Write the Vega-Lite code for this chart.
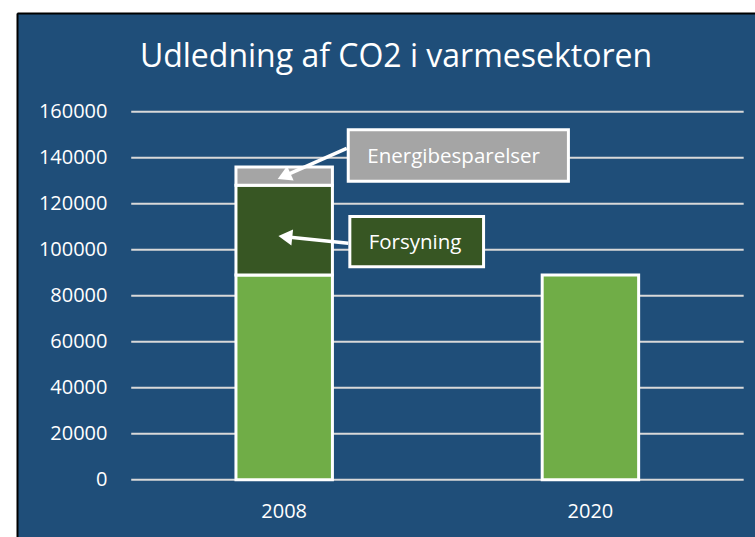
{
  "$schema": "https://vega.github.io/schema/vega-lite/v6.json",
  "width": 738,
  "height": 524,
  "autosize": {"type": "none"},
  "padding": {"left": 17, "top": 13, "right": 0, "bottom": 0},
  "background": "white",
  "title": {
    "text": "Udledning af CO2 i varmesektoren",
    "anchor": "middle",
    "color": "white",
    "font": "Open Sans",
    "fontSize": 32,
    "fontWeight": "normal",
    "baseline": "alphabetic",
    "offset": 0,
    "dx": 10,
    "dy": 86
  },
  "datasets": {
    "bars": [
      {"year": "2008", "part": "Basis", "i": 1, "value": 89000},
      {"year": "2008", "part": "Forsyning", "i": 2, "value": 39000},
      {"year": "2008", "part": "Energibesparelser", "i": 3, "value": 8000},
      {"year": "2020", "part": "Basis", "i": 1, "value": 89000}
    ],
    "grid": [
      {"v": 0}, {"v": 20000}, {"v": 40000}, {"v": 60000}, {"v": 80000},
      {"v": 100000}, {"v": 120000}, {"v": 140000}, {"v": 160000}
    ],
    "boxes": [
      {"label": "Energibesparelser", "x0": 0.2087, "x1": 0.9277, "y0": 129783, "y1": 152130, "tx": 0.553, "ty": 137913},
      {"label": "Forsyning", "x0": 0.2139, "x1": 0.6506, "y0": 92565, "y1": 114435, "tx": 0.4269, "ty": 100174}
    ],
    "arrows": [
      {"label": "Energibesparelser", "x0": 0.2038, "y0": 144087, "x1": -0.001, "y1": 132000, "dir": 156},
      {"label": "Forsyning", "x0": 0.209, "y0": 102783, "x1": 0.0033, "y1": 105609, "dir": 186}
    ]
  },
  "layer": [
    {
      "data": {"name": "grid"},
      "mark": {"type": "rule", "color": "#D9D9D9", "strokeWidth": 2},
      "encoding": {
        "x": {"datum": -0.5, "type": "quantitative", "scale": {"domain": [-0.873, 1.537], "nice": false, "zero": false},
          "axis": {"orient": "top", "domain": true, "domainColor": "black", "domainWidth": 2, "labels": false, "ticks": false, "grid": false, "title": null}},
        "x2": {"datum": 1.5},
        "y": {"field": "v", "type": "quantitative", "scale": {"domain": [-24913, 202913], "nice": false, "zero": false},
          "axis": {"values": [0, 20000, 40000, 60000, 80000, 100000, 120000, 140000, 160000], "title": null}}
      }
    },
    {
      "data": {"name": "bars"},
      "mark": {"type": "bar", "stroke": "white", "strokeWidth": 3},
      "encoding": {
        "x": {"field": "year", "type": "nominal",
          "scale": {"type": "band", "paddingInner": 0.685, "paddingOuter": 0.5475, "align": 0.653, "round": false},
          "axis": {"orient": "bottom", "domain": false, "ticks": false, "tickSize": 0, "labelPadding": -20, "labelBaseline": "alphabetic", "labelAngle": 0, "labelColor": "white", "labelFont": "Open Sans", "labelFontSize": 20, "grid": false, "title": null}},
        "y": {"field": "value", "type": "quantitative", "stack": "zero",
          "scale": {"domain": [-24913, 202913], "nice": false, "zero": false},
          "axis": {"values": [0, 20000, 40000, 60000, 80000, 100000, 120000, 140000, 160000], "title": null}},
        "color": {"field": "part", "type": "nominal",
          "scale": {"domain": ["Basis", "Forsyning", "Energibesparelser"], "range": ["#70AD47", "#375623", "#A5A5A5"]}, "legend": null},
        "order": {"field": "i", "type": "quantitative"}
      }
    },
    {
      "layer": [
        {
          "data": {"name": "boxes"},
          "mark": {"type": "rect", "stroke": "white", "strokeWidth": 3},
          "encoding": {
            "x": {"field": "x0", "type": "quantitative", "scale": {"domain": [-0.873, 1.537], "nice": false, "zero": false}, "axis": null},
            "x2": {"field": "x1"},
            "y": {"field": "y0", "type": "quantitative", "scale": {"domain": [-24913, 202913], "nice": false, "zero": false},
              "axis": {"values": [0, 20000, 40000, 60000, 80000, 100000, 120000, 140000, 160000], "title": null}},
            "y2": {"field": "y1"},
            "color": {"field": "label", "type": "nominal",
              "scale": {"domain": ["Basis", "Forsyning", "Energibesparelser"], "range": ["#70AD47", "#375623", "#A5A5A5"]}, "legend": null}
          }
        },
        {
          "data": {"name": "boxes"},
          "mark": {"type": "text", "color": "white", "font": "Open Sans", "fontSize": 20.5, "align": "center", "baseline": "alphabetic"},
          "encoding": {
            "x": {"field": "tx", "type": "quantitative", "scale": {"domain": [-0.873, 1.537], "nice": false, "zero": false}, "axis": null},
            "y": {"field": "ty", "type": "quantitative", "scale": {"domain": [-24913, 202913], "nice": false, "zero": false},
              "axis": {"values": [0, 20000, 40000, 60000, 80000, 100000, 120000, 140000, 160000], "title": null}},
            "text": {"field": "label"}
          }
        },
        {
          "data": {"name": "arrows"},
          "mark": {"type": "rule", "color": "white", "strokeWidth": 3.5},
          "encoding": {
            "x": {"field": "x0", "type": "quantitative", "scale": {"domain": [-0.873, 1.537], "nice": false, "zero": false}, "axis": null},
            "x2": {"field": "x1"},
            "y": {"field": "y0", "type": "quantitative", "scale": {"domain": [-24913, 202913], "nice": false, "zero": false},
              "axis": {"values": [0, 20000, 40000, 60000, 80000, 100000, 120000, 140000, 160000], "title": null}},
            "y2": {"field": "y1"}
          }
        },
        {
          "data": {"name": "arrows"},
          "mark": {"type": "point", "shape": "triangle-right", "filled": true, "color": "white", "opacity": 1, "size": 256, "strokeWidth": 0},
          "encoding": {
            "x": {"field": "x1", "type": "quantitative", "scale": {"domain": [-0.873, 1.537], "nice": false, "zero": false}, "axis": null},
            "y": {"field": "y1", "type": "quantitative", "scale": {"domain": [-24913, 202913], "nice": false, "zero": false},
              "axis": {"values": [0, 20000, 40000, 60000, 80000, 100000, 120000, 140000, 160000], "title": null}},
            "angle": {"field": "dir", "type": "quantitative", "scale": null}
          }
        }
      ]
    }
  ],
  "resolve": {"scale": {"x": "independent"}, "axis": {"x": "independent"}},
  "config": {
    "view": {"fill": "#1F4E79", "stroke": null},
    "axisY": {"format": "d", "grid": false, "domain": true, "domainColor": "black", "domainWidth": 2, "ticks": false, "tickSize": 0, "labelPadding": -90, "labelColor": "white", "labelFont": "Open Sans", "labelFontSize": 20, "labelBaseline": "middle", "labelFlush": false, "labelOverlap": false}
  }
}
